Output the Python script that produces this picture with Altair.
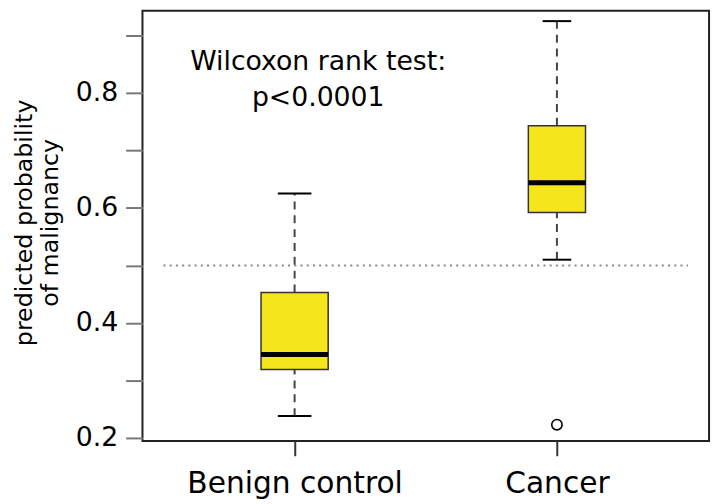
import altair as alt
import pandas as pd

# ---- data ----
groups = ["Benign control", "Cancer"]
positions = [1, 2]
whisker_low = [0.238, 0.510]
q1 = [0.319, 0.592]
median = [0.345, 0.644]
q3 = [0.453, 0.743]
whisker_high = [0.625, 0.925]
outlier_group = ["Cancer"]
outlier_value = [0.223]
y_tick_values = [0.2, 0.3, 0.4, 0.5, 0.6, 0.7, 0.8, 0.9]
y_tick_labels = ["0.2", "0.4", "0.6", "0.8"]
cutoff = [0.5]
annotation = ["Wilcoxon rank test:\np<0.0001"]

# ---- style constants ----
BOX_HALF = [0.128, 0.109]       # varwidth boxes (x units)
FONT = "DejaVu Sans"
FILL = "#F5E51B"

df = pd.DataFrame({
    "group": groups, "pos": positions, "lo": whisker_low, "q1": q1,
    "med": median, "q3": q3, "hi": whisker_high, "half": BOX_HALF,
})
pos_of = dict(zip(groups, positions))
out_df = pd.DataFrame({"pos": [pos_of[g] for g in outlier_group], "v": outlier_value})
cut_df = pd.DataFrame({"y": cutoff, "x0": [positions[0] - 0.5], "x1": [positions[-1] + 0.5]})
ann_df = pd.DataFrame({"text": annotation, "x": [1.09], "y": [0.840]})

X_SCALE = alt.Scale(domain=[0.42, 2.58], nice=False, zero=False)
Y_SCALE = alt.Scale(domain=[0.1948, 0.943], nice=False, zero=False)

x_label_expr = " : ".join(
    [f"datum.value == {p} ? '{g}'" for p, g in zip(positions[:-1], groups[:-1])]
    + [f"'{groups[-1]}'"])
y_label_expr = ("indexof([" + ",".join(f"'{t}'" for t in y_tick_labels) +
                "], format(datum.value, '.1f')) >= 0 ? format(datum.value, '.1f') : ''")

XAX = alt.Axis(values=positions, labelExpr=x_label_expr, tickSize=15, tickColor="#333",
               tickWidth=2, domain=False, grid=False, labelFont=FONT, labelFontSize=30,
               labelColor="black", labelBaseline="alphabetic", labelPadding=37,
               labelFlush=False, labelOverlap=False, labelLimit=0, title="")
YAX = alt.Axis(values=y_tick_values, labelExpr=y_label_expr, tickSize=17, tickColor="#777",
               tickWidth=2, domain=False, grid=False, labelFont=FONT, labelFontSize=27,
               labelColor="black", labelPadding=8, labelFlush=False, labelOverlap=False,
               labelLimit=0,
               title=["predicted probability", "of malignancy"], titleFont=FONT,
               titleFontSize=24, titleFontWeight="normal", titleColor="black",
               titleAngle=270, titleAlign="center", titleBaseline="alphabetic",
               titleLineHeight=26, titleLimit=0, titleX=-112, titleY=214)

base = alt.Chart(df).transform_calculate(
    xl="datum.pos - datum.half", xr="datum.pos + datum.half",
    cl="datum.pos - datum.half/2", cr="datum.pos + datum.half/2")

def X(f):
    return alt.X(f, type="quantitative", scale=X_SCALE, axis=XAX)

def Y(f):
    return alt.Y(f, type="quantitative", scale=Y_SCALE, axis=YAX)

cutline = alt.Chart(cut_df).mark_rule(color="#888", strokeWidth=2, strokeDash=[2, 4.3]).encode(
    x=X("x0"), x2="x1", y=Y("y"))

whisk_up = base.mark_rule(color="#444", strokeWidth=2, strokeDash=[8, 6]).encode(
    x=X("pos"), y=Y("q3"), y2="hi")
whisk_lo = base.mark_rule(color="#444", strokeWidth=2, strokeDash=[8, 6]).encode(
    x=X("pos"), y=Y("lo"), y2="q1")
cap_hi = base.mark_rule(color="black", strokeWidth=2).encode(x=X("cl"), x2="cr", y=Y("hi"))
cap_lo = base.mark_rule(color="black", strokeWidth=2).encode(x=X("cl"), x2="cr", y=Y("lo"))
box = base.mark_rect(fill=FILL, stroke="#333", strokeWidth=1.5).encode(
    x=X("xl"), x2="xr", y=Y("q1"), y2="q3")
med = base.mark_rule(color="black", strokeWidth=5).encode(x=X("xl"), x2="xr", y=Y("med"))
outl = alt.Chart(out_df).mark_point(shape="circle", filled=False, size=110, color="black",
                                    strokeWidth=1.6, opacity=1).encode(x=X("pos"), y=Y("v"))
ann = alt.Chart(ann_df).mark_text(font=FONT, fontSize=27, color="black", align="center",
                                  baseline="alphabetic", lineBreak="\n", lineHeight=36).encode(
    x=X("x"), y=Y("y"), text="text:N")

chart = alt.layer(cutline, whisk_up, whisk_lo, cap_hi, cap_lo, box, med, outl, ann).properties(
    width=573, height=435,
    autosize=alt.AutoSizeParams(type="none"),
    padding={"left": 136, "top": 0, "right": 5, "bottom": 60},
).configure_view(stroke="#222", strokeWidth=2)

chart.save("out.html", embed_options={"renderer": "svg", "actions": False})
